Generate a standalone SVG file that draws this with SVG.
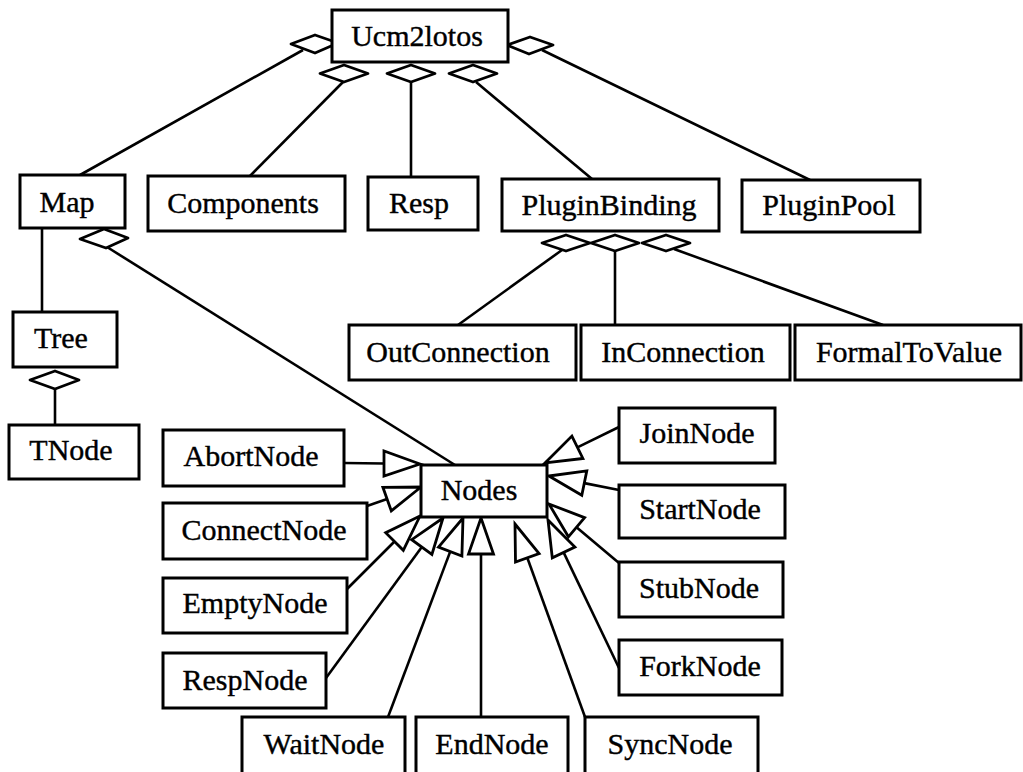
<svg xmlns="http://www.w3.org/2000/svg" width="1023" height="772" viewBox="0 0 1023 772">
<style>
.box{fill:#fff;stroke:#000;stroke-width:3}
.t{font-family:"Liberation Serif","Times New Roman",serif;font-size:30px;fill:#000;stroke:#000;stroke-width:0.4;text-anchor:middle}
.ln{stroke:#000;stroke-width:2.6;fill:none}
.dia{fill:#fff;stroke:#000;stroke-width:2.8;stroke-linejoin:round}
.tri{fill:#fff;stroke:#000;stroke-width:2.8;stroke-linejoin:miter}
</style>
<rect width="1023" height="772" fill="#fff"/>
<g id="connectors">
<line class="ln" x1="303" y1="50" x2="80" y2="175"/>
<line class="ln" x1="343" y1="82" x2="250" y2="176"/>
<line class="ln" x1="411" y1="82" x2="411" y2="177"/>
<line class="ln" x1="476" y1="82" x2="592" y2="179"/>
<line class="ln" x1="542" y1="50" x2="810" y2="180"/>
<line class="ln" x1="562" y1="250" x2="458" y2="325"/>
<line class="ln" x1="615" y1="251" x2="615" y2="325"/>
<line class="ln" x1="674" y1="249" x2="883" y2="325"/>
<line class="ln" x1="107" y1="247" x2="455" y2="465"/>
<line class="ln" x1="42" y1="228" x2="42" y2="312"/>
<line class="ln" x1="55" y1="389" x2="55" y2="425"/>
<polygon class="dia" points="291,44 315,35 338,43 315,53"/>
<polygon class="dia" points="320,73.5 344,65 368,73.5 344,82"/>
<polygon class="dia" points="387,73.5 411,65 435,73.5 411,82"/>
<polygon class="dia" points="449,73.5 473,65 497,73.5 473,82"/>
<polygon class="dia" points="507,45 530,37 553,45 529,54"/>
<polygon class="dia" points="542,243 566,235 590,243 566,251"/>
<polygon class="dia" points="591,243 615,235 639,243 615,251"/>
<polygon class="dia" points="642,243 666,235 690,243 666,251"/>
<polygon class="dia" points="80,239 104,229 128,238 106,248"/>
<polygon class="dia" points="30,380 55,371 79,380 55,389"/>
<line class="ln" x1="344" y1="463" x2="384" y2="463.5"/>
<polygon class="tri" points="420,464 384,451 384,476"/>
<line class="ln" x1="367" y1="506" x2="387.1" y2="499.1"/>
<polygon class="tri" points="421,487 391.3,510.9 382.9,487.3"/>
<line class="ln" x1="346" y1="590" x2="394.5" y2="541.5"/>
<polygon class="tri" points="420,516 403.3,550.3 385.7,532.7"/>
<line class="ln" x1="326" y1="678" x2="421.8" y2="547.1"/>
<polygon class="tri" points="443,518 431.9,554.5 411.7,539.7"/>
<line class="ln" x1="388" y1="717" x2="450.2" y2="551.6"/>
<polygon class="tri" points="463,518 461.9,556.1 438.5,547.1"/>
<line class="ln" x1="481" y1="717" x2="481" y2="554"/>
<polygon class="tri" points="481,518 493.5,554 468.5,554"/>
<line class="ln" x1="585" y1="717" x2="527.3" y2="557.8"/>
<polygon class="tri" points="515,524 539.1,553.5 515.5,562.1"/>
<line class="ln" x1="619" y1="668" x2="563.6" y2="552.4"/>
<polygon class="tri" points="548,520 574.9,547 552.3,557.8"/>
<line class="ln" x1="619" y1="563" x2="576.5" y2="527.2"/>
<polygon class="tri" points="549,504 584.6,517.6 568.4,536.8"/>
<line class="ln" x1="619" y1="490" x2="584.3" y2="483.1"/>
<polygon class="tri" points="549,476 586.8,470.9 581.8,495.3"/>
<line class="ln" x1="619" y1="427" x2="577.4" y2="447.3"/>
<polygon class="tri" points="545,463 571.9,436.1 582.9,458.5"/>
</g>
<g id="n-ucm2lotos"><rect class="box" x="332" y="10" width="176" height="52"/><text class="t" x="417" y="46">Ucm2lotos</text></g>
<g id="n-map"><rect class="box" x="20" y="175" width="105" height="53"/><text class="t" x="67" y="212">Map</text></g>
<g id="n-components"><rect class="box" x="148" y="176" width="197" height="55"/><text class="t" x="243" y="213">Components</text></g>
<g id="n-resp"><rect class="box" x="368" y="177" width="110" height="53"/><text class="t" x="419" y="213">Resp</text></g>
<g id="n-pluginbinding"><rect class="box" x="502" y="179" width="217" height="52"/><text class="t" x="609" y="215">PluginBinding</text></g>
<g id="n-pluginpool"><rect class="box" x="742" y="180" width="178" height="52"/><text class="t" x="829" y="215">PluginPool</text></g>
<g id="n-tree"><rect class="box" x="13" y="312" width="104" height="55"/><text class="t" x="61" y="348">Tree</text></g>
<g id="n-tnode"><rect class="box" x="9" y="425" width="130" height="54"/><text class="t" x="71" y="460">TNode</text></g>
<g id="n-outconnection"><rect class="box" x="349" y="325" width="227" height="55"/><text class="t" x="458" y="362">OutConnection</text></g>
<g id="n-inconnection"><rect class="box" x="581" y="325" width="209" height="55"/><text class="t" x="683" y="362">InConnection</text></g>
<g id="n-formaltovalue"><rect class="box" x="795" y="325" width="226" height="55"/><text class="t" x="909" y="362">FormalToValue</text></g>
<g id="n-nodes"><rect class="box" x="421" y="465" width="126" height="52"/><text class="t" x="479" y="500">Nodes</text></g>
<g id="n-abortnode"><rect class="box" x="163" y="430" width="181" height="56"/><text class="t" x="251" y="466">AbortNode</text></g>
<g id="n-connectnode"><rect class="box" x="163" y="503" width="204" height="56"/><text class="t" x="264" y="540">ConnectNode</text></g>
<g id="n-emptynode"><rect class="box" x="163" y="578" width="184" height="55"/><text class="t" x="255" y="613">EmptyNode</text></g>
<g id="n-respnode"><rect class="box" x="163" y="653" width="163" height="55"/><text class="t" x="245" y="690">RespNode</text></g>
<g id="n-waitnode"><rect class="box" x="242" y="717" width="163" height="62"/><text class="t" x="324" y="754">WaitNode</text></g>
<g id="n-endnode"><rect class="box" x="416" y="717" width="152" height="62"/><text class="t" x="492" y="754">EndNode</text></g>
<g id="n-syncnode"><rect class="box" x="585" y="717" width="173" height="62"/><text class="t" x="670" y="754">SyncNode</text></g>
<g id="n-joinnode"><rect class="box" x="619" y="408" width="156" height="55"/><text class="t" x="697" y="443">JoinNode</text></g>
<g id="n-startnode"><rect class="box" x="619" y="485" width="166" height="53"/><text class="t" x="700" y="519">StartNode</text></g>
<g id="n-stubnode"><rect class="box" x="619" y="562" width="164" height="55"/><text class="t" x="699" y="598">StubNode</text></g>
<g id="n-forknode"><rect class="box" x="619" y="640" width="163" height="55"/><text class="t" x="700" y="676">ForkNode</text></g>
</svg>
